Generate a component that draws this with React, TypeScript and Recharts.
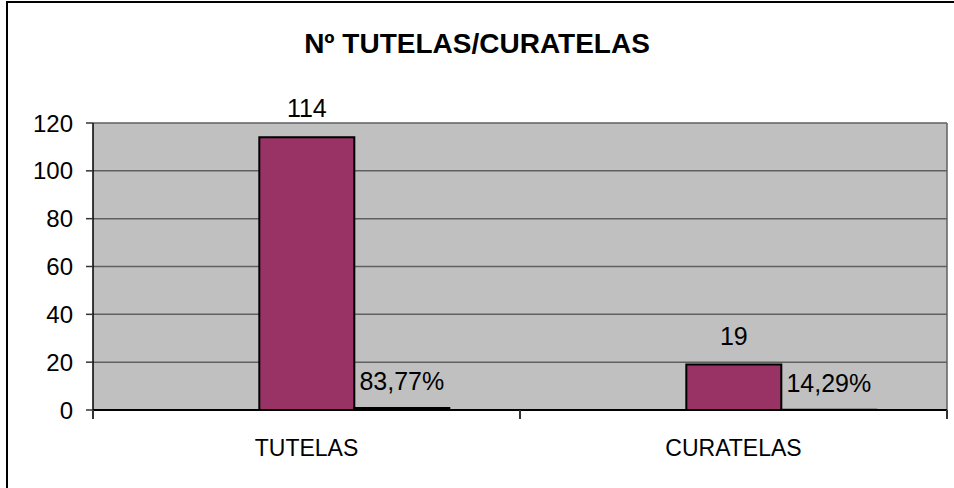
import React from "react";
import { BarChart, Bar, XAxis, YAxis, CartesianGrid, LabelList } from "recharts";

document.body.style.margin = "0";

const categories = ["TUTELAS", "CURATELAS"];
const blankValues = [0, 0];
const countValues = [114, 19];
const shareValues = [0.8377, 0.1429];
const shareLabels = ["83,77%", "14,29%"];
const yTicks = [0, 20, 40, 60, 80, 100, 120];

const data = categories.map((name, i) => ({
  name,
  blank: blankValues[i],
  count: countValues[i],
  share: shareValues[i],
  shareLabel: shareLabels[i],
}));

const FONT = "'Liberation Sans', Arial, sans-serif";

// category tick: label in the middle, tick marks between categories (Excel style)
const CategoryTick = (props: any) => {
  const { x, y, payload, index, visibleTicksCount } = props;
  const half = payload?.offset || 0;
  const top = y - 30;
  const isLast = index === (visibleTicksCount ?? categories.length) - 1;
  return (
    <g>
      <line x1={x - half} x2={x - half} y1={top} y2={top + 9} stroke="#333" strokeWidth={2} />
      {isLast && <line x1={x + half} x2={x + half} y1={top} y2={top + 9} stroke="#333" strokeWidth={2} />}
      <text x={x} y={y} dy={16} textAnchor="middle" fill="#000" fontSize={23} fontFamily={FONT}>
        {payload.value}
      </text>
    </g>
  );
};

export default function App() {
  return (
    <div style={{ position: "relative", width: 954, height: 488, background: "#fff", fontFamily: FONT }}>
      {/* chart frame, only left and top edges fall inside the picture */}
      <div
        style={{
          position: "absolute",
          left: 6,
          top: 1,
          width: 960,
          height: 500,
          borderLeft: "2px solid #000",
          borderTop: "2px solid #000",
          pointerEvents: "none",
        }}
      />
      <div
        style={{
          position: "absolute",
          left: 0,
          width: 954,
          top: 28,
          textAlign: "center",
          fontSize: 28,
          fontWeight: "bold",
          color: "#000",
        }}
      >
        Nº TUTELAS/CURATELAS
      </div>
      <BarChart
        width={954}
        height={488}
        data={data}
        margin={{ top: 123, right: 7, left: 33, bottom: 40 }}
        barCategoryGap="16.7%"
        barGap={0}
      >
        <CartesianGrid
          fill="#C0C0C0"
          stroke="#606060"
          strokeWidth={1.5}
          verticalCoordinatesGenerator={({ offset }: any) => [offset.left + offset.width]}
        />
        <XAxis
          dataKey="name"
          axisLine={{ stroke: "#000", strokeWidth: 2 }}
          tickLine={false}
          tick={<CategoryTick />}
          tickMargin={24}
          height={38}
        />
        <YAxis
          domain={[0, 120]}
          ticks={yTicks}
          width={60}
          axisLine={{ stroke: "#000", strokeWidth: 1.5 }}
          tickLine={{ stroke: "#333", strokeWidth: 1.5 }}
          tickSize={7}
          tick={{ fill: "#000", fontSize: 24, fontFamily: FONT }}
          tickMargin={13}
        />
        <Bar dataKey="blank" fill="#9999FF" isAnimationActive={false} />
        <Bar dataKey="count" fill="#993366" stroke="#000" strokeWidth={2} isAnimationActive={false}>
          <LabelList dataKey="count" position="top" offset={20} fill="#000" fontSize={25} fontFamily={FONT} />
        </Bar>
        <Bar dataKey="share" fill="#FFFFCC" stroke="#000" strokeWidth={2} isAnimationActive={false}>
          <LabelList dataKey="shareLabel" position="top" offset={18} fill="#000" fontSize={25} fontFamily={FONT} />
        </Bar>
      </BarChart>
    </div>
  );
}
